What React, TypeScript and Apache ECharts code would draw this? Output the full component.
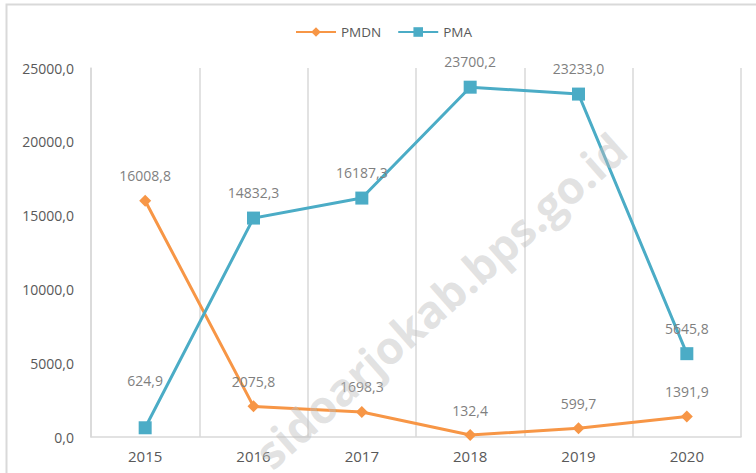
import React, { useEffect, useRef } from "react";
import * as echarts from "echarts";

const years = ["2015", "2016", "2017", "2018", "2019", "2020"];
const pmdn = [16008.8, 2075.8, 1698.3, 132.4, 599.7, 1391.9];
const pma = [624.9, 14832.3, 16187.3, 23700.2, 23233.0, 5645.8];
const yTicks = { min: 0, max: 25000, interval: 5000 };

const fmt = (v: number) => v.toFixed(1).replace(".", ",");
const FONT = "Open Sans";

export default function App() {
  const ref = useRef<HTMLDivElement>(null);
  useEffect(() => {
    document.body.style.margin = "0";
    const chart = echarts.init(ref.current!, null, { renderer: "svg" });
    const labelStyle = {
      show: true,
      position: "top" as const,
      distance: 12,
      color: "#7f7f7f",
      fontSize: 14,
      fontFamily: FONT,
      formatter: (p: any) => fmt(p.value),
    };
    chart.setOption({
      animation: false,
      backgroundColor: "#ffffff",
      legend: {
        top: 20,
        left: 290,
        itemWidth: 40,
        itemHeight: 12,
        itemGap: 16,
        textStyle: { color: "#595959", fontSize: 13.5, fontFamily: FONT },
        data: ["PMDN", "PMA"],
      },
      grid: { left: 91, right: 15, top: 68, bottom: 36 },
      xAxis: {
        type: "category",
        data: years,
        boundaryGap: true,
        axisLine: { lineStyle: { color: "#d9d9d9", width: 1.5 } },
        axisTick: { show: false },
        splitLine: { show: true, lineStyle: { color: "#d9d9d9", width: 1.5 } },
        axisLabel: {
          color: "#595959",
          fontSize: 15,
          fontFamily: FONT,
          margin: 11,
        },
      },
      yAxis: {
        type: "value",
        min: yTicks.min,
        max: yTicks.max,
        interval: yTicks.interval,
        axisLine: { show: true, lineStyle: { color: "#d9d9d9", width: 1.5 } },
        axisTick: { show: false },
        splitLine: { show: false },
        axisLabel: {
          color: "#595959",
          fontSize: 14,
          fontFamily: FONT,
          margin: 17,
          formatter: (v: number) => fmt(v),
        },
      },
      series: [
        {
          name: "PMDN",
          type: "line",
          data: pmdn,
          color: "#F79646",
          symbol: "diamond",
          symbolSize: 12,
          lineStyle: { width: 3, color: "#F79646" },
          itemStyle: { color: "#F79646" },
          label: labelStyle,
          z: 3,
        },
        {
          name: "PMA",
          type: "line",
          data: pma.map((v, i) =>
            i === 0 ? { value: v, label: { distance: 34 } } : v
          ),
          color: "#4BACC6",
          symbol: "rect",
          symbolSize: 13,
          lineStyle: { width: 3, color: "#4BACC6" },
          itemStyle: { color: "#4BACC6" },
          label: labelStyle,
          z: 3,
        },
      ],
      graphic: [
        {
          type: "rect",
          shape: { x: 6.5, y: 4.5, width: 800, height: 500 },
          style: { fill: "none", stroke: "#d9d9d9", lineWidth: 2 },
          silent: true,
          z: 0,
        },
        {
          type: "text",
          x: 440,
          y: 300,
          rotation: 0.725,
          style: {
            text: "sidoarjokab.bps.go.id",
            font: "bold 45px 'Open Sans'",
            fill: "rgba(190,190,190,0.45)",
            align: "center",
            verticalAlign: "middle",
          },
          silent: true,
          z: 100,
        },
      ],
    });
    return () => chart.dispose();
  }, []);
  return (
    <div
      ref={ref}
      style={{ position: "absolute", left: 0, top: 0, width: 756, height: 473 }}
    />
  );
}
